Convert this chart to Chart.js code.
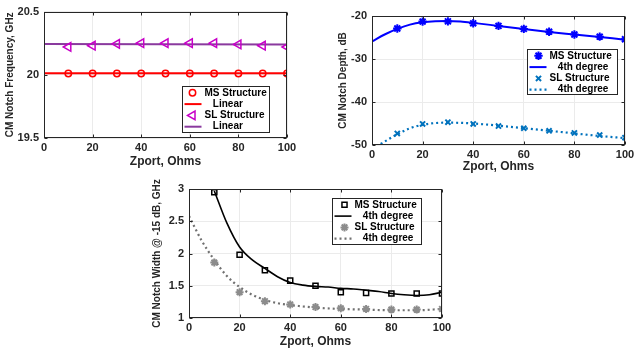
<!DOCTYPE html>
<html>
<head>
<meta charset="utf-8">
<script src="https://cdn.jsdelivr.net/npm/chart.js@4.4.1/dist/chart.umd.min.js"></script>
<style>
html, body { margin: 0; padding: 0; background: #fff; overflow: hidden; width: 634px; height: 349px; }
canvas { position: absolute; }
</style>
</head>
<body>
<canvas id="c1" width="300" height="175" style="left:0;top:0"></canvas>
<canvas id="c2" width="340" height="175" style="left:310px;top:0"></canvas>
<canvas id="c3" width="330" height="174" style="left:140px;top:175px"></canvas>
<script>
// Zport values (Ohms) of the measured points
const zport = [10, 20, 30, 40, 50, 60, 70, 80, 90, 100];
const xTicks = [0, 20, 40, 60, 80, 100];

// Chart 1: notch frequency
const freqMS = [20.01, 20.01, 20.01, 20.01, 20.01, 20.01, 20.01, 20.01, 20.01, 20.01];
const freqSL = [20.22, 20.23, 20.245, 20.25, 20.25, 20.25, 20.25, 20.24, 20.23, 20.22];
const freqFitX = [0, 100];
const freqFitMS = [20.012, 20.012];
const freqFitSL = [20.244, 20.239];
const freqTicks = [19.5, 20, 20.5];

// Chart 2: notch depth
const depthMS = [-22.9, -21.3, -21.25, -21.7, -22.3, -23.0, -23.65, -24.3, -24.8, -25.4];
const depthSL = [-47.3, -45.1, -44.7, -45.1, -45.6, -46.1, -46.7, -47.2, -47.7, -48.3];
const depthFitX = [0, 5, 10, 15, 20, 25, 30, 35, 40, 50, 60, 70, 80, 90, 100];
const depthFitMS = [-25.9, -24.3, -23.0, -22.0, -21.45, -21.2, -21.15, -21.3, -21.6, -22.3, -23.0, -23.7, -24.3, -24.9, -25.5];
const depthFitSL = [-50.9, -49.2, -47.5, -46.1, -45.3, -44.9, -44.8, -44.85, -45.0, -45.5, -46.1, -46.7, -47.3, -47.9, -48.4];
const depthTicks = [-50, -40, -30, -20];

// Chart 3: notch width @ -15 dB
const widthMS = [2.95, 1.98, 1.74, 1.58, 1.50, 1.40, 1.39, 1.38, 1.38, 1.38];
const widthSL = [1.86, 1.40, 1.26, 1.21, 1.17, 1.15, 1.14, 1.13, 1.13, 1.14];
const widthFitMSX = [10, 15, 20, 25, 30, 35, 40, 45, 50, 55, 60, 65, 70, 75, 80, 85, 90, 95, 100];
const widthFitMS = [2.97, 2.47, 2.10, 1.90, 1.77, 1.64, 1.55, 1.51, 1.49, 1.48, 1.46, 1.45, 1.43, 1.41, 1.38, 1.36, 1.35, 1.36, 1.40];
const widthFitSLX = [0, 5, 10, 15, 20, 25, 30, 35, 40, 45, 50, 60, 70, 80, 90, 100];
const widthFitSL = [2.58, 2.20, 1.90, 1.65, 1.48, 1.36, 1.28, 1.23, 1.20, 1.18, 1.16, 1.14, 1.13, 1.12, 1.12, 1.14];
const widthTicks = [1, 1.5, 2, 2.5, 3];

const FONT = "'Liberation Sans', Arial, sans-serif";
Chart.defaults.font.family = FONT;
Chart.defaults.font.weight = 'bold';
Chart.defaults.color = '#262626';
Chart.defaults.animation = false;

function pts(xs, ys) {
    return xs.map((x, i) => ({ x: x, y: ys[i] }));
}

// box frame with inward ticks, matlab style
const framePlugin = {
    id: 'frame',
    afterDatasetsDraw(chart) {
        const { ctx, chartArea: a, scales } = chart;
        const L = Math.round(a.left) + 0.5, R = Math.round(a.right) - 0.5;
        const T = Math.round(a.top) + 0.5, B = Math.round(a.bottom) - 0.5;
        ctx.save();
        ctx.strokeStyle = '#262626';
        ctx.lineWidth = 1;
        ctx.strokeRect(L, T, R - L, B - T);
        ctx.beginPath();
        scales.x.ticks.forEach((t, i) => {
            const p = Math.round(scales.x.getPixelForTick(i)) + 0.5;
            ctx.moveTo(p, B); ctx.lineTo(p, B - 3);
            ctx.moveTo(p, T); ctx.lineTo(p, T + 3);
        });
        scales.y.ticks.forEach((t, i) => {
            const p = Math.round(scales.y.getPixelForTick(i)) + 0.5;
            ctx.moveTo(L, p); ctx.lineTo(L + 3, p);
            ctx.moveTo(R, p); ctx.lineTo(R - 3, p);
        });
        ctx.stroke();
        ctx.restore();
    }
};

// legend box drawn inside the plot area
const boxLegendPlugin = {
    id: 'boxLegend',
    afterDraw(chart, args, opts) {
        if (!opts || !opts.items) return;
        const { ctx, chartArea: a } = chart;
        const bx = Math.round(a.left + opts.x) + 0.5, by = Math.round(a.top + opts.y) + 0.5;
        ctx.save();
        ctx.fillStyle = '#fff';
        ctx.fillRect(bx, by, opts.w, opts.h);
        ctx.strokeStyle = '#262626';
        ctx.lineWidth = 1;
        ctx.strokeRect(bx, by, opts.w, opts.h);
        ctx.font = 'bold 10px ' + FONT;
        ctx.textBaseline = 'middle';
        opts.items.forEach((it, i) => {
            const ds = chart.data.datasets[it.ds];
            const y = by + 6.3 + i * 11.3;
            if (it.kind === 'marker') {
                ctx.strokeStyle = ds.pointBorderColor;
                ctx.fillStyle = ds.pointBackgroundColor;
                ctx.lineWidth = ds.pointBorderWidth;
                ctx.setLineDash([]);
                Chart.helpers.drawPoint(ctx, {
                    pointStyle: ds.pointStyle,
                    rotation: ds.pointRotation || 0,
                    radius: ds.pointRadius,
                    borderWidth: ds.pointBorderWidth
                }, bx + opts.mx, y);
            } else {
                ctx.strokeStyle = ds.borderColor;
                ctx.lineWidth = ds.borderWidth;
                ctx.setLineDash(ds.borderDash || []);
                ctx.beginPath();
                ctx.moveTo(bx + 2, y);
                ctx.lineTo(bx + 19, y);
                ctx.stroke();
            }
            ctx.fillStyle = '#000';
            ctx.fillText(it.text, bx + 22, y);
        });
        ctx.restore();
    }
};

function makeOptions(c) {
    return {
        responsive: false,
        animation: false,
        layout: { padding: { left: c.padLeft, right: c.padRight, top: c.padTop, bottom: 0 } },
        plugins: {
            legend: { display: false },
            tooltip: { enabled: false },
            boxLegend: c.legend
        },
        scales: {
            x: {
                type: 'linear',
                min: 0,
                max: 100,
                afterBuildTicks: s => { s.ticks = xTicks.map(v => ({ value: v })); },
                afterFit: s => { s.height = c.xHeight; },
                grid: { color: '#ebebeb', drawTicks: false },
                border: { display: false },
                ticks: { font: { size: 11, weight: 'bold' }, padding: 3, maxRotation: 0, callback: v => String(v) },
                title: { display: true, text: 'Zport, Ohms', font: { size: 12, weight: 'bold' }, padding: { top: 0, bottom: c.xTitlePad } }
            },
            y: {
                type: 'linear',
                min: c.yTicks[0],
                max: c.yTicks[c.yTicks.length - 1],
                afterBuildTicks: s => { s.ticks = c.yTicks.map(v => ({ value: v })); },
                afterFit: s => { s.width = c.yWidth; },
                grid: { color: '#ebebeb', drawTicks: false },
                border: { display: false },
                ticks: { font: { size: 11, weight: 'bold' }, padding: 5, callback: v => String(v) },
                title: { display: true, text: c.yTitle, font: { size: 10, weight: 'bold' }, padding: { top: 4, bottom: 0 } }
            }
        }
    };
}

function markerSet(data, color, style, radius, width, extra) {
    return Object.assign({
        data: data,
        showLine: false,
        pointStyle: style,
        pointRadius: radius,
        pointBorderColor: color,
        pointBackgroundColor: 'rgba(0,0,0,0)',
        pointBorderWidth: width,
        pointHoverRadius: radius
    }, extra || {});
}

function lineSet(data, color, width, dash) {
    return {
        data: data,
        showLine: true,
        borderColor: color,
        borderWidth: width,
        borderDash: dash || [],
        pointRadius: 0,
        fill: false,
        cubicInterpolationMode: 'monotone'
    };
}

new Chart(document.getElementById('c1'), {
    type: 'scatter',
    data: {
        datasets: [
            markerSet(pts(zport, freqMS), '#ff0000', 'circle', 3.2, 1.5),
            lineSet(pts(freqFitX, freqFitMS), '#ff0000', 2),
            markerSet(pts(zport, freqSL), '#c800c8', 'triangle', 5, 1.5, { pointRotation: -90 }),
            lineSet(pts(freqFitX, freqFitSL), '#8a3a9e', 2)
        ]
    },
    options: makeOptions({
        padLeft: 0, padRight: 13, padTop: 9,
        xHeight: 37, xTitlePad: 6, yWidth: 44,
        yTicks: freqTicks,
        yTitle: 'CM Notch Frequency, GHz',
        legend: {
            x: 138, y: 74, w: 87, h: 46, mx: 10,
            items: [
                { text: 'MS Structure', ds: 0, kind: 'marker' },
                { text: '   Linear', ds: 1, kind: 'line' },
                { text: 'SL Structure', ds: 2, kind: 'marker' },
                { text: '   Linear', ds: 3, kind: 'line' }
            ]
        }
    }),
    plugins: [framePlugin, boxLegendPlugin]
});

new Chart(document.getElementById('c2'), {
    type: 'scatter',
    data: {
        datasets: [
            markerSet(pts(zport, depthMS), '#0000ff', 'star', 4.2, 2),
            lineSet(pts(depthFitX, depthFitMS), '#0000ff', 2),
            markerSet(pts(zport, depthSL), '#0072bd', 'crossRot', 3.6, 2),
            lineSet(pts(depthFitX, depthFitSL), '#0072bd', 2.2, [2, 3])
        ]
    },
    options: makeOptions({
        padLeft: 23, padRight: 25, padTop: 16,
        xHeight: 30, xTitlePad: 1, yWidth: 39,
        yTicks: depthTicks,
        yTitle: 'CM Notch Depth, dB',
        legend: {
            x: 155, y: 33, w: 90, h: 45, mx: 11,
            items: [
                { text: 'MS Structure', ds: 0, kind: 'marker' },
                { text: '   4th degree', ds: 1, kind: 'line' },
                { text: 'SL Structure', ds: 2, kind: 'marker' },
                { text: '   4th degree', ds: 3, kind: 'line' }
            ]
        }
    }),
    plugins: [framePlugin, boxLegendPlugin]
});

new Chart(document.getElementById('c3'), {
    type: 'scatter',
    data: {
        datasets: [
            markerSet(pts(zport, widthMS), '#000000', 'rect', 3.6, 1.5),
            lineSet(pts(widthFitMSX, widthFitMS), '#000000', 1.6),
            markerSet(pts(zport, widthSL), '#8c8c8c', 'star', 4, 2),
            lineSet(pts(widthFitSLX, widthFitSL), '#707070', 2.2, [2, 3])
        ]
    },
    options: makeOptions({
        padLeft: 7, padRight: 28, padTop: 14,
        xHeight: 31, xTitlePad: 0, yWidth: 42,
        yTicks: widthTicks,
        yTitle: 'CM Notch Width @ -15 dB, GHz',
        legend: {
            x: 143, y: 9, w: 89, h: 46, mx: 12,
            items: [
                { text: 'MS Structure', ds: 0, kind: 'marker' },
                { text: '   4th degree', ds: 1, kind: 'line' },
                { text: 'SL Structure', ds: 2, kind: 'marker' },
                { text: '   4th degree', ds: 3, kind: 'line' }
            ]
        }
    }),
    plugins: [framePlugin, boxLegendPlugin]
});
</script>
</body>
</html>
